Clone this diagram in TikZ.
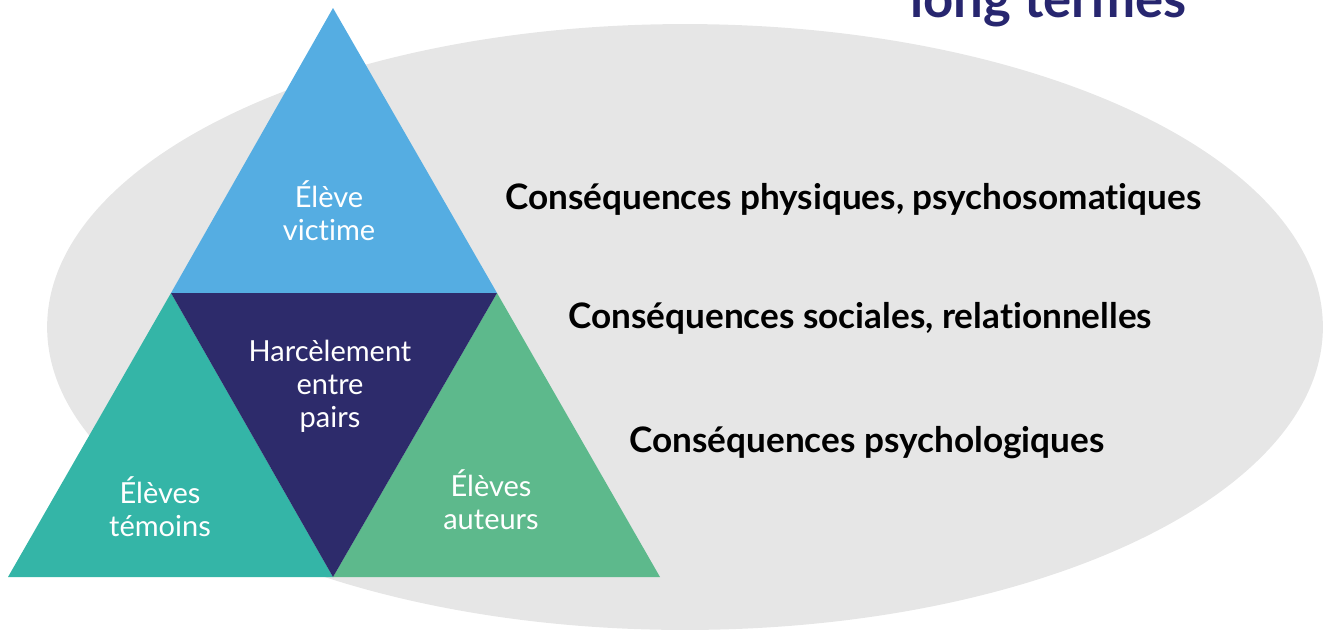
\documentclass[tikz,border=0pt]{standalone}
\usepackage{fontspec}
\setmainfont[Ligatures={NoCommon}]{Lato}
\definecolor{ellgray}{HTML}{E6E6E6}
\definecolor{topblue}{HTML}{55ADE2}
\definecolor{midnavy}{HTML}{2D2B6B}
\definecolor{leftteal}{HTML}{34B5A7}
\definecolor{rightgreen}{HTML}{5DB98C}
\definecolor{titlenavy}{HTML}{27266F}
\tikzset{
  tritext/.style={text=white, align=center, font=\fontsize{16.5}{18.8}\selectfont},
  constext/.style={text=black, anchor=west, font=\bfseries\fontsize{20}{24}\selectfont, inner sep=0pt},
}
\begin{document}
\begin{tikzpicture}[x=0.02cm, y=-0.02cm]
\useasboundingbox (0,0) rectangle (1324,633);
\clip (0,0) rectangle (1324,633);
\fill[ellgray] (685,327) ellipse [x radius=12.76cm, y radius=6.06cm];
\coordinate (A) at (333,8);
\coordinate (L) at (8,577);
\coordinate (R) at (660,577);
\coordinate (ML) at (171,293);
\coordinate (MR) at (497,293);
\coordinate (MB) at (333,577);
\fill[topblue] (A) -- (ML) -- (MR) -- cycle;
\fill[leftteal] (ML) -- (L) -- (MB) -- cycle;
\fill[rightgreen] (MR) -- (MB) -- (R) -- cycle;
\fill[midnavy] (ML) -- (MR) -- (MB) -- cycle;
\node[tritext] (victime) at (329,211) {Élève\\victime};
\node[tritext] (harc) at (330,386) {Harcèlement\\entre\\pairs};
\node[tritext] (temoins) at (160,507) {Élèves\\témoins};
\node[tritext] (auteurs) at (491,500) {Élèves\\auteurs};
\node[constext] (c1) at (505,199) {Conséquences physiques, psychosomatiques};
\node[constext] (c2) at (568,318) {Conséquences sociales, relationnelles};
\node[constext] (c3) at (629,443) {Conséquences psychologiques};
\node[anchor=base west, inner sep=0pt, text=titlenavy, font=\bfseries\fontsize{30}{36}\selectfont] (title) at (910,17) {long termes};
\end{tikzpicture}
\end{document}
